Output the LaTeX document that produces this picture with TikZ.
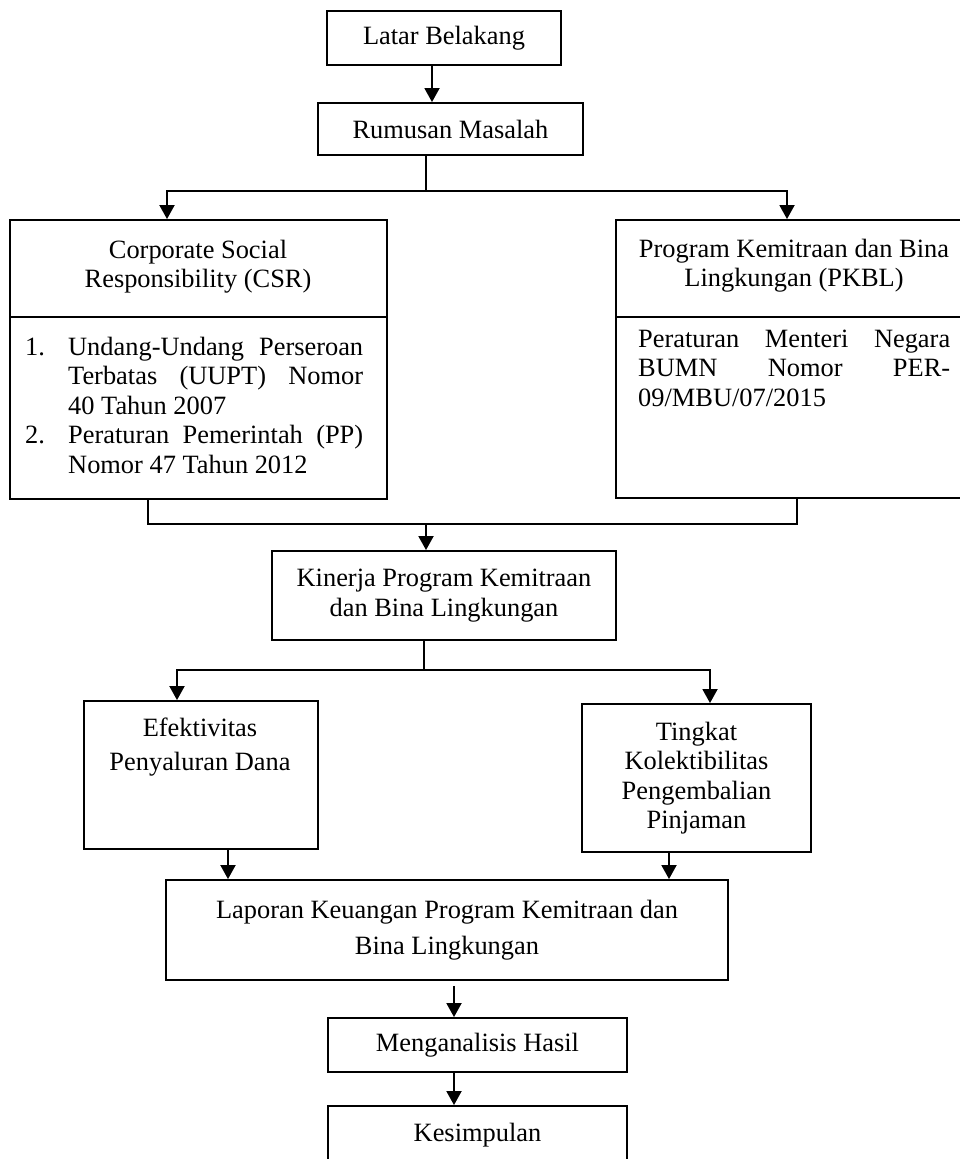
\documentclass[tikz,border=0pt]{standalone}
\usepackage{fontspec}
\setmainfont{Liberation Serif}
\usetikzlibrary{arrows.meta,calc}

\begin{document}
\begin{tikzpicture}[x=1pt,y=-1pt,
  box/.style={draw,line width=1.9pt,inner sep=0pt,align=center,font=\fontsize{26.4}{29.5}\selectfont},
  txt/.style={inner sep=0pt,align=center,font=\fontsize{26.4}{29.5}\selectfont},
  con/.style={line width=1.9pt},
  arr/.style={line width=1.9pt,-{Triangle[width=15pt,length=14pt]}}]
\useasboundingbox (0,0) rectangle (959,1159);
\node[box,minimum width=234,minimum height=54] (latar) at (444,38) {Latar Belakang};
\node[box,minimum width=265,minimum height=52] (rumusan) at (450.5,129) {Rumusan Masalah};
\node[box,minimum width=377,minimum height=279] (csr) at (198.5,359.5) {};
\node[txt] (csrtitle) at (198,266.5) {Corporate Social\\Responsibility (CSR)};
\node[txt,anchor=west,align=left] (csrlaw) at (25,405) {\makebox[43pt][l]{1.}\makebox[295pt][s]{Undang-Undang Perseroan}\\
  \hspace*{43pt}\makebox[295pt][s]{Terbatas (UUPT) Nomor}\\
  \hspace*{43pt}40 Tahun 2007\\
  \makebox[43pt][l]{2.}\makebox[295pt][s]{Peraturan Pemerintah (PP)}\\
  \hspace*{43pt}Nomor 47 Tahun 2012};
\node[box,minimum width=346,minimum height=278] (pkbl) at (789,359) {};
\node[txt] (pkbltitle) at (794,265.5) {Program Kemitraan dan Bina\\Lingkungan (PKBL)};
\node[txt,anchor=west,align=left] (pkbllaw) at (638,368) {\makebox[312pt][s]{Peraturan Menteri Negara}\\
  \makebox[312pt][s]{BUMN Nomor PER-}\\
  09/MBU/07/2015};
\node[box,minimum width=344,minimum height=89] (kinerja) at (444,595.5) {Kinerja Program Kemitraan\\dan Bina Lingkungan};
\node[box,minimum width=234,minimum height=148] (efek) at (201,775) {};
\node[txt] (efektext) at (200,747) {Efektivitas\\[5pt]Penyaluran Dana};
\node[box,minimum width=229,minimum height=148] (tingkat) at (696.5,778) {Tingkat\\Kolektibilitas\\Pengembalian\\Pinjaman};
\node[box,minimum width=562,minimum height=100] (laporan) at (447,930) {Laporan Keuangan Program Kemitraan dan\\[6pt]Bina Lingkungan};
\node[box,minimum width=299,minimum height=54] (anal) at (477.5,1045) {Menganalisis Hasil};
\node[box,minimum width=299,minimum height=58] (kesim) at (477.5,1135) {Kesimpulan};
% dividers in the two upper boxes
\draw[con] ([yshift=-98pt]csr.north west) -- ([yshift=-98pt]csr.north east);
\draw[con] ([yshift=-98pt]pkbl.north west) -- ([yshift=-98pt]pkbl.north east);
\coordinate (fork1) at (426,191);
\coordinate (join1) at (426,524);
\coordinate (fork2) at (424,670);
\draw[arr] ([xshift=-12pt]latar.south) -- ([xshift=-12pt]latar.south |- rumusan.north);
\draw[con] (rumusan.south -| fork1) -- (fork1);
\draw[arr] (fork1) -| ([xshift=-31.5pt]csr.north);
\draw[arr] (fork1) -| ([xshift=-2pt]pkbl.north);
\draw[con] ([xshift=-50.5pt]csr.south) |- (join1) -| ([xshift=8pt]pkbl.south);
\draw[arr] (join1) -- (kinerja.north -| join1);
\draw[con] (kinerja.south -| fork2) -- (fork2);
\draw[arr] (fork2) -| ([xshift=-24pt]efek.north);
\draw[arr] (fork2) -| ([xshift=13.5pt]tingkat.north);
\draw[arr] ([xshift=27pt]efek.south) -- ([xshift=27pt]efek.south |- laporan.north);
\draw[arr] ([xshift=-27.5pt]tingkat.south) -- ([xshift=-27.5pt]tingkat.south |- laporan.north);
\draw[arr] ($(laporan.south -| anal.north)+(-23.5,5)$) -- ([xshift=-23.5pt]anal.north);
\draw[arr] ([xshift=-23.5pt]anal.south) -- ([xshift=-23.5pt]kesim.north);
\end{tikzpicture}
\end{document}
